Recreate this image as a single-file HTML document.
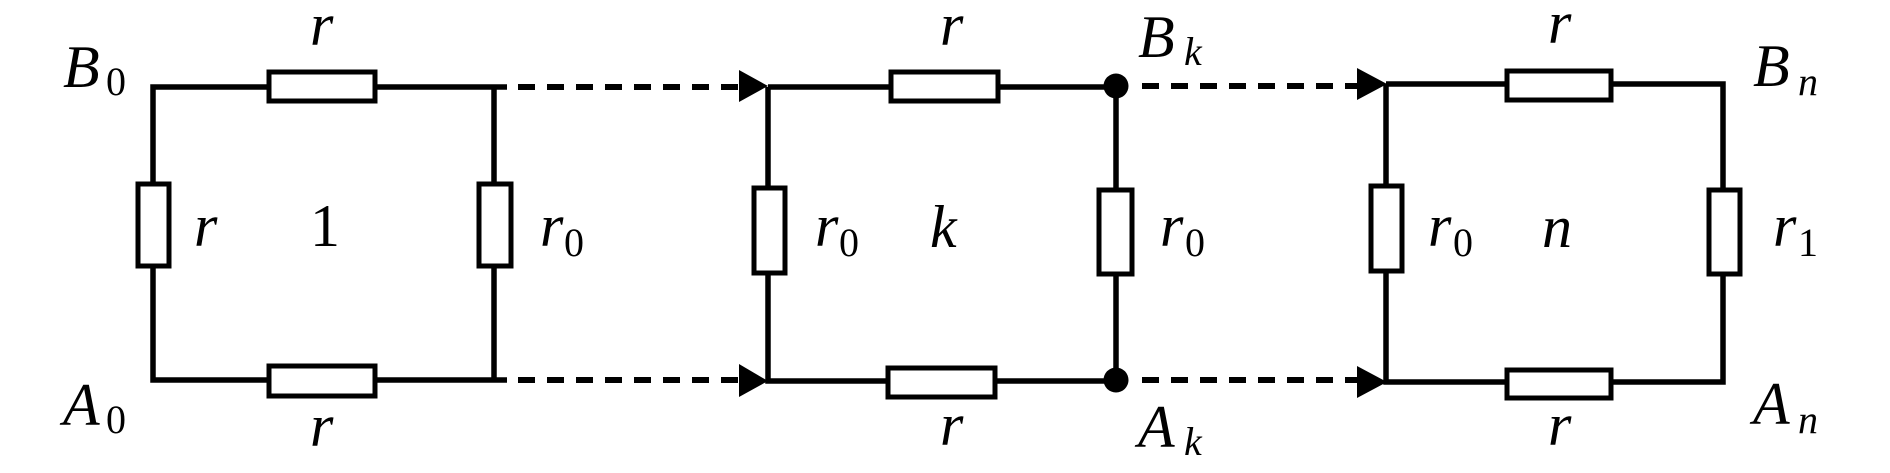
<!DOCTYPE html>
<html><head><meta charset="utf-8"><style>
html,body{margin:0;padding:0;background:#fff;}
svg{display:block;}
text{font-family:"Liberation Serif",serif;fill:#000;}
.i{font-style:italic;font-size:60px;}
.s{font-size:40px;font-style:normal;}
.si{font-size:40px;font-style:italic;}
</style></head><body>
<svg width="1890" height="473" viewBox="0 0 1890 473" xmlns="http://www.w3.org/2000/svg">
<g stroke="#000" stroke-width="5.5" fill="none">
<polyline points="507,87 153,87 153,380 507,380"/>
<line x1="494" y1="87" x2="494" y2="380"/>
<polyline points="768,87 768,381 1116,381 1116,87 768,87"/>
<polyline points="1386,84 1386,382 1723,382 1723,84 1386,84"/>
<g stroke-width="6" stroke-dasharray="17,12">
<line x1="518" y1="87" x2="745" y2="87"/>
<line x1="518" y1="380" x2="745" y2="380"/>
<line x1="1142" y1="86" x2="1362" y2="86"/>
<line x1="1142" y1="380" x2="1362" y2="380"/>
</g>
</g>
<g fill="#000">
<polygon points="739,70 768,86 739,102"/>
<polygon points="739,364 768,381 739,397"/>
<polygon points="1357,68 1387,84 1357,100"/>
<polygon points="1357,366 1387,382 1357,398"/>
<circle cx="1116" cy="86" r="12.5"/>
<circle cx="1116" cy="380" r="12.5"/>
</g>
<g stroke="#000" stroke-width="5" fill="#fff">
<rect x="269" y="72" width="106" height="29"/>
<rect x="269" y="366" width="106" height="30"/>
<rect x="138" y="184" width="31" height="82"/>
<rect x="479" y="184" width="32" height="82"/>
<rect x="754" y="188" width="31" height="85"/>
<rect x="891" y="72" width="107" height="29"/>
<rect x="888" y="368" width="107" height="29"/>
<rect x="1099" y="190" width="33" height="84"/>
<rect x="1371" y="186" width="31" height="85"/>
<rect x="1507" y="71" width="104" height="29"/>
<rect x="1507" y="370" width="104" height="28"/>
<rect x="1709" y="190" width="31" height="84"/>
</g>
<text class="i" x="310" y="45">r</text>
<text class="i" x="310" y="446">r</text>
<text class="i" x="63" y="87">B</text><text class="s" x="106" y="95">0</text>
<text class="i" x="63" y="425">A</text><text class="s" x="106" y="433">0</text>
<text class="i" x="194" y="246">r</text>
<text x="310" y="246" style="font-size:60px">1</text>
<text class="i" x="540" y="246">r</text><text class="s" x="564" y="256">0</text>
<text class="i" x="815" y="246">r</text><text class="s" x="839" y="256">0</text>
<text class="i" x="930" y="247">k</text>
<text class="i" x="940" y="45">r</text>
<text class="i" x="940" y="445">r</text>
<text class="i" x="1138" y="57">B</text><text class="si" x="1184" y="65">k</text>
<text class="i" x="1138" y="447">A</text><text class="si" x="1184" y="455">k</text>
<text class="i" x="1160" y="246">r</text><text class="s" x="1185" y="256">0</text>
<text class="i" x="1428" y="246">r</text><text class="s" x="1453" y="256">0</text>
<text class="i" x="1542" y="247">n</text>
<text class="i" x="1548" y="43">r</text>
<text class="i" x="1548" y="445">r</text>
<text class="i" x="1773" y="246">r</text><text class="s" x="1798" y="256">1</text>
<text class="i" x="1753" y="86">B</text><text class="si" x="1798" y="95">n</text>
<text class="i" x="1753" y="424">A</text><text class="si" x="1798" y="433">n</text>
</svg>
</body></html>
